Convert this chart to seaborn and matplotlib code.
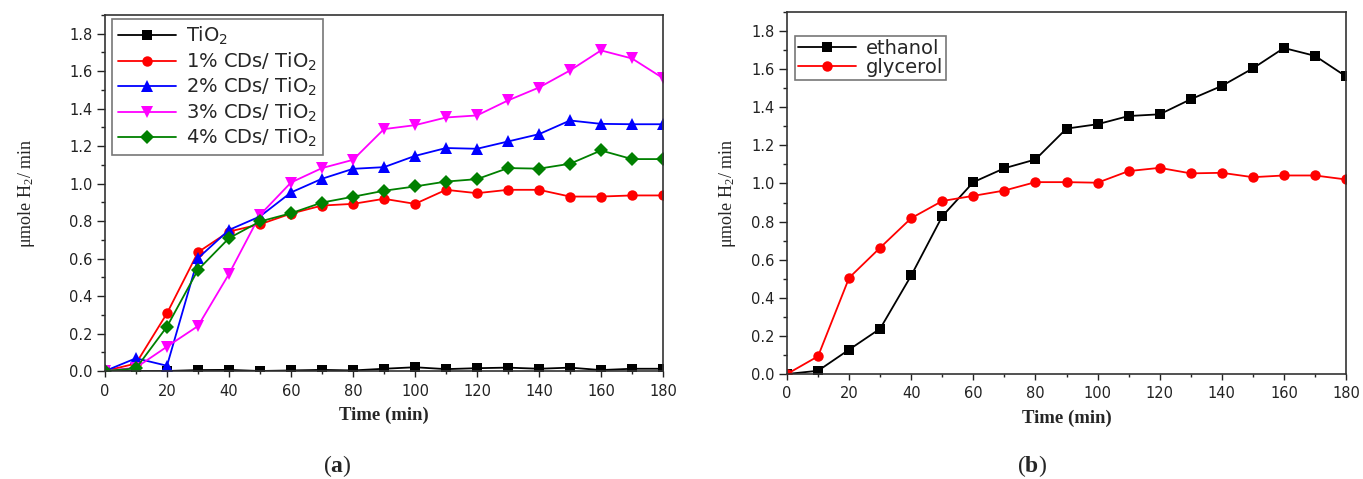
import numpy as np
import pandas as pd
import matplotlib
matplotlib.use("Agg")
import matplotlib.pyplot as plt
from matplotlib.ticker import MultipleLocator
import seaborn as sns

# ---------------- data ----------------
time_min = [0, 10, 20, 30, 40, 50, 60, 70, 80, 90, 100, 110, 120, 130, 140, 150, 160, 170, 180]

tio2 = [0, 0, 0, 0.005, 0.006, 0, 0.003, 0.006, 0.003, 0.012, 0.02, 0.01, 0.015, 0.018, 0.012, 0.018, 0.005, 0.012, 0.012]
cd1 = [0, 0.04, 0.308, 0.634, 0.744, 0.783, 0.84, 0.883, 0.892, 0.919, 0.892, 0.967, 0.949, 0.967, 0.967, 0.931, 0.931, 0.937, 0.937]
cd2 = [0, 0.068, 0.028, 0.602, 0.753, 0.825, 0.953, 1.026, 1.079, 1.088, 1.148, 1.19, 1.186, 1.225, 1.264, 1.337, 1.319, 1.317, 1.317]
cd3 = [0, 0.018, 0.13, 0.24, 0.518, 0.833, 1.006, 1.083, 1.127, 1.291, 1.312, 1.353, 1.364, 1.444, 1.513, 1.604, 1.711, 1.668, 1.563]
cd4 = [0, 0.014, 0.237, 0.54, 0.709, 0.798, 0.842, 0.899, 0.93, 0.962, 0.985, 1.011, 1.024, 1.083, 1.08, 1.106, 1.177, 1.131, 1.131]

ethanol = [0, 0.017, 0.128, 0.238, 0.517, 0.828, 1.007, 1.08, 1.126, 1.288, 1.311, 1.354, 1.363, 1.442, 1.512, 1.604, 1.711, 1.67, 1.562]
glycerol = [0, 0.093, 0.505, 0.663, 0.818, 0.908, 0.935, 0.963, 1.007, 1.007, 1.004, 1.065, 1.082, 1.053, 1.056, 1.033, 1.042, 1.042, 1.021]

sub2 = r"$\mathregular{_2}$"
labels_a = ["TiO" + sub2, "1% CDs/ TiO" + sub2, "2% CDs/ TiO" + sub2,
            "3% CDs/ TiO" + sub2, "4% CDs/ TiO" + sub2]
labels_b = ["ethanol", "glycerol"]

# ---------------- style ----------------
sns.set_style("ticks")
plt.rcParams["font.family"] = ["DejaVu Sans"]
plt.rcParams["mathtext.fontset"] = "custom"
plt.rcParams["mathtext.rm"] = "Liberation Serif"
plt.rcParams["mathtext.bf"] = "Liberation Serif:bold"

fig = plt.figure(figsize=(13.63, 4.79), dpi=100)
axA = fig.add_axes([105 / 1363, 1 - 371 / 479, 558 / 1363, 356 / 479])
axB = fig.add_axes([787 / 1363, 1 - 374 / 479, 559 / 1363, 362 / 479])

series_a = [tio2, cd1, cd2, cd3, cd4]
colors_a = ["black", "#ff0000", "#0000ff", "#ff00ff", "#008000"]
markers_a = ["s", "o", "^", "v", "D"]
msizes_a = [7, 7.5, 9, 9, 7]

for vals, lab, col, mk, ms in zip(series_a, labels_a, colors_a, markers_a, msizes_a):
    df = pd.DataFrame({"t": time_min, "v": vals})
    sns.lineplot(data=df, x="t", y="v", ax=axA, color=col, marker=mk,
                 markersize=ms, markeredgewidth=0, linewidth=1.3, label=lab)

series_b = [ethanol, glycerol]
colors_b = ["black", "#ff0000"]
markers_b = ["s", "o"]
for vals, lab, col, mk in zip(series_b, labels_b, colors_b, markers_b):
    df = pd.DataFrame({"t": time_min, "v": vals})
    sns.lineplot(data=df, x="t", y="v", ax=axB, color=col, marker=mk,
                 markersize=7.5, markeredgewidth=0, linewidth=1.3, label=lab)

ylab = r"μmole H$\mathregular{_2}$/ min"
for ax in (axA, axB):
    ax.set_xlim(0, 180)
    ax.set_ylim(0, 1.9)
    ax.xaxis.set_major_locator(MultipleLocator(20))
    ax.xaxis.set_minor_locator(MultipleLocator(10))
    ax.yaxis.set_minor_locator(MultipleLocator(0.1))
    ax.set_yticks(np.arange(0, 1.81, 0.2))
    ax.set_yticklabels([f"{v:.1f}" for v in np.arange(0, 1.81, 0.2)])
    ax.tick_params(axis="both", which="both", direction="out", width=1,
                   colors="#222222", labelsize=10.5)
    ax.tick_params(axis="y", which="major", length=6, pad=3)
    ax.tick_params(axis="y", which="minor", length=3)
    ax.tick_params(axis="x", which="major", length=4, pad=5)
    ax.tick_params(axis="x", which="minor", length=2.5)
    for s in ax.spines.values():
        s.set_visible(True)
        s.set_linewidth(1.2)
        s.set_color("#333333")
    ax.set_xlabel("Time (min)", family="Liberation Serif", fontweight="bold", fontsize=13.5, labelpad=6)
    ax.set_ylabel(ylab, family="Liberation Serif", fontsize=13)

axA.yaxis.set_label_coords(-0.122, 0.5)
axB.yaxis.set_label_coords(-0.088, 0.5)

legA = axA.legend(loc="upper left", bbox_to_anchor=(0.0125, 0.989), borderaxespad=0,
                  fontsize=14, frameon=True, fancybox=False, edgecolor="#555555",
                  handlelength=3.0, labelspacing=0.17, borderpad=0.3, handletextpad=0.5)
legA.get_frame().set_linewidth(1.2)
legB = axB.legend(loc="upper left", bbox_to_anchor=(0.014, 0.934), borderaxespad=0,
                  fontsize=14, frameon=True, fancybox=False, edgecolor="#555555",
                  handlelength=3.0, labelspacing=0.0, borderpad=0.15, handletextpad=0.5)
legB.get_frame().set_linewidth(1.2)

fig.text(337 / 1363, 1 - 466 / 479, r"$\mathregular{(}\mathbf{a}\mathregular{)}$",
         family="Liberation Serif", fontsize=17, ha="center", va="center")
fig.text(1032 / 1363, 1 - 466 / 479, r"$\mathregular{(}\mathbf{b}\mathregular{)}$",
         family="Liberation Serif", fontsize=17, ha="center", va="center")

fig.savefig("out.png", dpi=100, facecolor="white")
